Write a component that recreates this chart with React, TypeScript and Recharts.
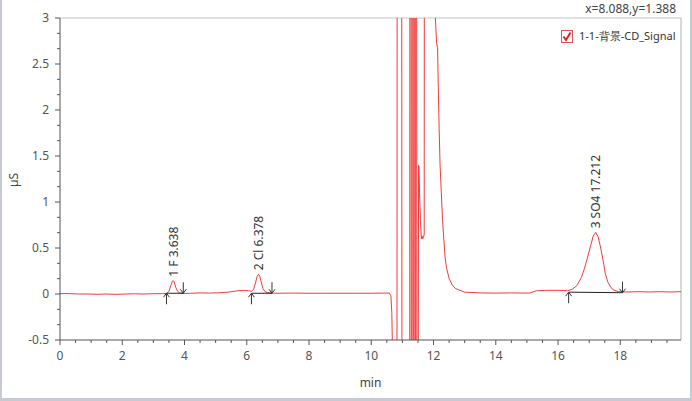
import React from 'react';
import { LineChart, Line, XAxis, YAxis, ReferenceLine, ReferenceDot } from 'recharts';

const times = [
  0, 0.3, 0.6, 0.9, 1.2, 1.5, 1.8, 2.1, 2.4, 2.7, 3.0, 3.3,
  3.42, 3.5, 3.56, 3.61, 3.64, 3.67, 3.72, 3.78, 3.85, 3.95,
  4.2, 4.5, 4.8, 5.1, 5.4, 5.7, 5.9, 6.05, 6.15,
  6.22, 6.28, 6.33, 6.378, 6.42, 6.47, 6.52, 6.58, 6.66, 6.8,
  7.0, 7.5, 8.0, 8.5, 9.0, 9.5, 10.0, 10.4, 10.58, 10.63, 10.66, 10.69, 10.72,
  10.82, 10.84, 10.97, 10.99,
  11.23, 11.245, 11.27, 11.285, 11.3, 11.315, 11.33, 11.345, 11.36, 11.375, 11.39, 11.405,
  11.42, 11.435, 11.45, 11.47, 11.49,
  11.52, 11.535, 11.55, 11.58, 11.61, 11.63, 11.65, 11.68, 11.7, 11.715, 11.9, 12.04,
  12.06, 12.08, 12.1, 12.13, 12.15, 12.18, 12.21, 12.25, 12.29, 12.33, 12.37, 12.42, 12.5, 12.6,
  12.7, 12.85, 13.0, 13.5, 14.0, 14.5, 15.0, 15.1, 15.3, 15.6, 16.0, 16.3,
  16.45, 16.6, 16.75, 16.85, 16.95, 17.05, 17.13, 17.21, 17.29, 17.37, 17.45, 17.52, 17.6,
  17.7, 17.8, 17.95, 18.2, 18.6, 18.9, 19.3, 19.6, 19.95,
];

const signal = [
  0.005, 0.004, 0.0, 0.0, -0.003, 0.0, -0.004, 0.0, 0.002, 0.0, 0.003, 0.004,
  0.005, 0.03, 0.09, 0.14, 0.145, 0.13, 0.07, 0.03, 0.012, 0.006,
  0.008, 0.012, 0.01, 0.013, 0.02, 0.035, 0.04, 0.035, 0.03,
  0.05, 0.12, 0.19, 0.215, 0.19, 0.12, 0.06, 0.03, 0.015, 0.01,
  0.008, 0.01, 0.008, 0.008, 0.008, 0.008, 0.008, 0.01, 0.01, -0.02, -0.2, -0.8, -5,
  -5, 10, 10, -5,
  -5, 10, 10, -5, -5, 10, 10, -5, -5, 10, 10, -5,
  -5, 10, 10, -5, -5,
  1.4, 1.38, 1.1, 0.8, 0.6, 0.63, 0.6, 0.62, 0.65, 10, 12, 6,
  3.0, 2.85, 2.72, 2.68, 2.3, 1.8, 1.4, 1.1, 0.8, 0.6, 0.4, 0.28, 0.17, 0.1,
  0.06, 0.04, 0.02, 0.012, 0.01, 0.012, 0.01, 0.012, 0.035, 0.04, 0.04, 0.035,
  0.05, 0.09, 0.18, 0.28, 0.4, 0.53, 0.63, 0.67, 0.62, 0.5, 0.36, 0.22, 0.13,
  0.07, 0.04, 0.025, 0.022, 0.025, 0.022, 0.025, 0.022, 0.025,
];

const peakIds = [1, 2, 3];
const peakNames = ['F', 'Cl', 'SO4'];
const peakTimes = [3.638, 6.378, 17.212];
const peakTops = [0.145, 0.215, 0.67];
const peakStarts = [3.42, 6.15, 16.34];
const peakEnds = [3.96, 6.81, 18.07];
const peakBaseStart = [0.008, 0.008, 0.02];
const peakBaseEnd = [0.008, 0.008, 0.014];

const xLabelTicks = [0, 2, 4, 6, 8, 10, 12, 14, 16, 18];
const yLabelTicks = [-0.5, 0, 0.5, 1, 1.5, 2, 2.5, 3];
const seriesName = '1-1-背景-CD_Signal';
const cursorText = 'x=8.088,y=1.388';
const xTitle = 'min';
const yTitle = 'µS';

const X_MAX = 19.95;
const FONT = '"Noto Sans", "Open Sans", sans-serif';
const RED = '#f03c3c';
const AXIS = '#555';

const data = times.map((t, i) => ({ t, y: signal[i] }));

// minor tick positions derived from the labelled ticks
const xTicks: number[] = [];
for (let i = 0; i < xLabelTicks.length; i++) {
  for (let k = 0; k < 4; k++) xTicks.push(xLabelTicks[i] + k * 0.5);
}
const yTicks: number[] = [];
for (let i = 0; i < yLabelTicks.length; i++) {
  if (i === yLabelTicks.length - 1) { yTicks.push(yLabelTicks[i]); break; }
  for (let k = 0; k < 3; k++) yTicks.push(yLabelTicks[i] + (k * 0.5) / 3);
}

const isMajor = (v: number, list: number[]) => list.some((m) => Math.abs(m - v) < 1e-6);

const XTick = (props: any) => {
  const { x, y, payload } = props;
  const v = payload.value;
  const major = isMajor(v, xLabelTicks);
  return (
    <g>
      <line x1={x} x2={x} y1={y} y2={y + (major ? 5 : 3)} stroke={AXIS} strokeWidth={1} />
      {major && (
        <text x={x} y={y + 20} textAnchor="middle" fontSize={12} fill="#555" fontFamily={FONT}>
          {v}
        </text>
      )}
    </g>
  );
};

const YTick = (props: any) => {
  const { x, y, payload } = props;
  const v = payload.value;
  const major = isMajor(v, yLabelTicks);
  return (
    <g>
      <line x1={x - (major ? 5 : 3)} x2={x} y1={y} y2={y} stroke={AXIS} strokeWidth={1} />
      {major && (
        <text x={x - 11} y={y} dy="0.35em" textAnchor="end" fontSize={12} fill="#555" fontFamily={FONT}>
          {v}
        </text>
      )}
    </g>
  );
};

const StartArrow = (props: any) => {
  const { cx, cy } = props;
  return (
    <g stroke="#333" strokeWidth={1} fill="none">
      <line x1={cx} x2={cx} y1={cy} y2={cy + 11} />
      <polyline points={`${cx - 3},${cy + 4} ${cx},${cy} ${cx + 3},${cy + 4}`} />
    </g>
  );
};

const EndArrow = (props: any) => {
  const { cx, cy } = props;
  return (
    <g stroke="#333" strokeWidth={1} fill="none">
      <line x1={cx} x2={cx} y1={cy - 11} y2={cy} />
      <polyline points={`${cx - 3},${cy - 4} ${cx},${cy} ${cx + 3},${cy - 4}`} />
    </g>
  );
};

const makePeakLabel = (i: number) => (props: any) => {
  const { cx, cy } = props;
  const ty = cy - 4;
  return (
    <text
      x={cx}
      y={ty}
      transform={`rotate(-90, ${cx}, ${ty})`}
      textAnchor="start"
      dominantBaseline="central"
      fontSize={12}
      fill="#333"
      fontFamily={FONT}
    >
      {`${peakIds[i]} ${peakNames[i]} ${peakTimes[i].toFixed(3)}`}
    </text>
  );
};

export default function App() {
  return (
    <div style={{ position: 'absolute', left: 0, top: 0, width: 692, height: 401, background: '#fff', fontFamily: FONT }}>
      <LineChart width={692} height={401} data={data} margin={{ top: 18, right: 11, left: 0, bottom: 0 }}>
        <XAxis
          dataKey="t"
          type="number"
          domain={[0, X_MAX]}
          ticks={xTicks}
          interval={0}
          tick={<XTick />}
          tickLine={false}
          tickSize={0}
          tickMargin={0}
          height={61}
          stroke={AXIS}
          allowDataOverflow
        />
        <YAxis
          type="number"
          domain={[-0.5, 3]}
          ticks={yTicks}
          interval={0}
          tick={<YTick />}
          tickLine={false}
          tickSize={0}
          tickMargin={0}
          width={60}
          stroke={AXIS}
          allowDataOverflow
        />
        <ReferenceLine y={3} stroke="#c4c4c4" strokeWidth={1} />
        <ReferenceLine x={X_MAX} stroke="#b0b0b0" strokeWidth={1} />
        <Line
          type="linear"
          dataKey="y"
          stroke={RED}
          strokeWidth={1}
          dot={false}
          activeDot={false}
          isAnimationActive={false}
        />
        {peakIds.map((id, i) => (
          <ReferenceLine
            key={`bl${id}`}
            segment={[
              { x: peakStarts[i], y: peakBaseStart[i] },
              { x: peakEnds[i], y: peakBaseEnd[i] },
            ]}
            stroke="#222"
            strokeWidth={1}
          />
        ))}
        {peakIds.map((id, i) => (
          <ReferenceDot key={`sa${id}`} x={peakStarts[i]} y={peakBaseStart[i]} r={1} shape={<StartArrow />} />
        ))}
        {peakIds.map((id, i) => (
          <ReferenceDot key={`ea${id}`} x={peakEnds[i]} y={peakBaseEnd[i]} r={1} shape={<EndArrow />} />
        ))}
        {peakIds.map((id, i) => (
          <ReferenceDot key={`pl${id}`} x={peakTimes[i]} y={peakTops[i]} r={1} shape={makePeakLabel(i)} />
        ))}
      </LineChart>
      {/* axis titles */}
      <div style={{ position: 'absolute', left: 0, width: 692, top: 374, textAlign: 'center', paddingLeft: 60, boxSizing: 'border-box', paddingRight: 11, fontSize: 12, color: '#444' }}>
        {xTitle}
      </div>
      <div style={{ position: 'absolute', left: 13, top: 180, transform: 'translate(-50%, -50%) rotate(-90deg)', fontSize: 12, color: '#444', whiteSpace: 'nowrap' }}>
        {yTitle}
      </div>
      {/* cursor readout */}
      <div style={{ position: 'absolute', right: 16, top: 0, fontSize: 12, color: '#444', whiteSpace: 'nowrap' }}>
        {cursorText}
      </div>
      {/* legend */}
      <div style={{ position: 'absolute', left: 561, top: 28, display: 'flex', alignItems: 'center', fontSize: 11, color: '#333', whiteSpace: 'nowrap' }}>
        <svg width={12} height={13} style={{ marginRight: 6 }}>
          <rect x={0.5} y={0.5} width={11} height={12} fill="#fff" stroke="#e05050" strokeWidth={1} />
          <polyline points="2.5,6.5 5,10 9.5,2.5" fill="none" stroke="#e02020" strokeWidth={2} />
        </svg>
        <span>{seriesName}</span>
      </div>
      {/* outer frame */}
      <div style={{ position: 'absolute', left: 0, top: 0, width: 692, height: 401, boxSizing: 'border-box', borderLeft: '2px solid #c5cad3', borderRight: '2px solid #c5cad3', borderBottom: '3px solid #c5cad3', pointerEvents: 'none' }} />
    </div>
  );
}
